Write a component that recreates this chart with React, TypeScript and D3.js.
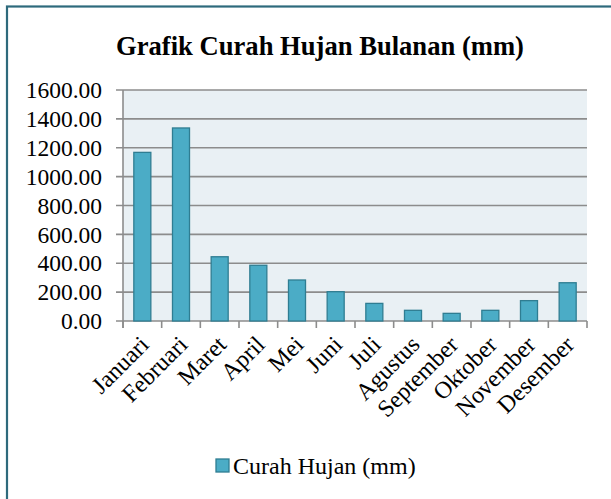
import React from "react";
import * as d3 from "d3";

const categories = ["Januari","Februari","Maret","April","Mei","Juni","Juli","Agustus","September","Oktober","November","Desember"];
const values = [1168, 1337, 445, 386, 284, 203, 122, 74, 53, 74, 141, 265];
const yTicks = [0, 200, 400, 600, 800, 1000, 1200, 1400, 1600];
const seriesName = "Curah Hujan (mm)";
const title = "Grafik Curah Hujan Bulanan (mm)";

const W = 611, H = 499;
const plot = { left: 123, right: 587, top: 90, bottom: 321 };
const font = "'Liberation Serif', 'Times New Roman', serif";

export default function App() {
  const x = d3.scaleBand<string>().domain(categories).range([plot.left, plot.right]).paddingInner(0).paddingOuter(0);
  const y = d3.scaleLinear().domain([0, 1600]).range([plot.bottom, plot.top]);
  const bw = x.bandwidth() * 0.44;
  const boundaries = d3.range(categories.length + 1).map(i => plot.left + i * x.step());
  return (
    <svg width={W} height={H} style={{ position: "absolute", left: 0, top: 0, fontFamily: font }}>
      <rect x={0} y={0} width={W} height={H} fill="#fff" />
      <rect x={7} y={6.5} width={W + 20} height={H + 20} fill="none" stroke="#2e6a7c" strokeWidth={2.2} />
      <text x={320} y={55} textAnchor="middle" fontWeight="bold" fontSize={26.6} style={{ fontFamily: font }}>{title}</text>
      <rect x={plot.left} y={plot.top} width={plot.right - plot.left} height={plot.bottom - plot.top} fill="#e9f0f4" />
      {yTicks.map(t => (
        <g key={t}>
          <line x1={plot.left - 7} x2={plot.right} y1={y(t)} y2={y(t)} stroke="#8c8c8c" strokeWidth={1.6} />
          <text x={102} y={y(t)} dy="0.35em" textAnchor="end" fontSize={23.5} style={{ fontFamily: font }}>{t.toFixed(2)}</text>
        </g>
      ))}
      <line x1={plot.left} x2={plot.left} y1={plot.top} y2={plot.bottom + 7} stroke="#8c8c8c" strokeWidth={1.6} />
      {boundaries.map((b, i) => (
        <line key={i} x1={b} x2={b} y1={plot.bottom} y2={plot.bottom + 7} stroke="#8c8c8c" strokeWidth={1.6} />
      ))}
      {categories.map((c, i) => (
        <rect key={c} x={(x(c) as number) + (x.bandwidth() - bw) / 2} y={y(values[i])} width={bw} height={y(0) - y(values[i])}
          fill="#4bacc6" stroke="#2f7d92" strokeWidth={1.3} />
      ))}
      {categories.map(c => {
        const cx = (x(c) as number) + x.bandwidth() / 2 + 8;
        const cy = plot.bottom + 25;
        return (
          <text key={c} x={cx} y={cy} textAnchor="end" fontSize={24} transform={`rotate(-45 ${cx} ${cy})`} style={{ fontFamily: font }}>{c}</text>
        );
      })}
      <rect x={216} y={459} width={13} height={13} fill="#4bacc6" stroke="#2f7d92" strokeWidth={1.3} />
      <text x={233} y={474} fontSize={24} style={{ fontFamily: font }}>{seriesName}</text>
    </svg>
  );
}
